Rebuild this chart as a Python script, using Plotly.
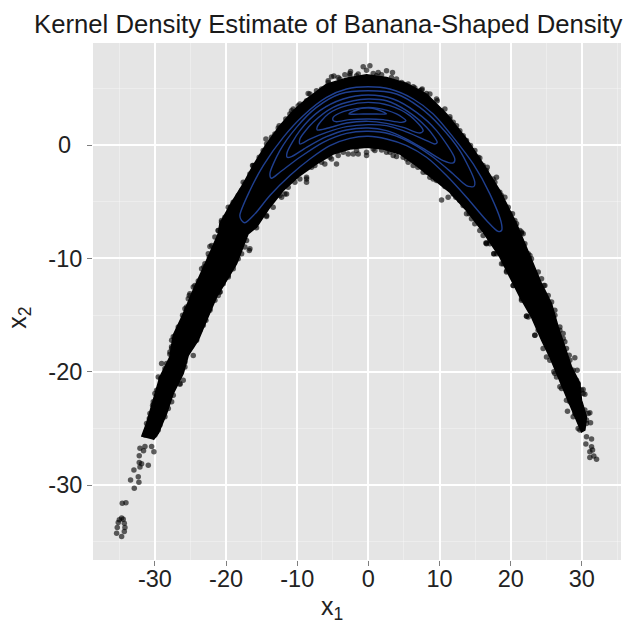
import plotly.graph_objects as go

# Upper and lower outline of the solid mass of samples
upper_x = [-31.87,-31.17,-30.23,-29.3,-27.89,-27.42,-26.0,-24.61,-22.74,-21.1,-20.87,-19.46,-17.59,-16.19,-14.31,-12.44,-10.57,-8.69,-5.88,-3.07,-0.26,2.55,5.36,8.17,10.98,13.79,16.13,18.47,20.35,20.82,21.99,23.16,24.33,25.74,26.67,27.61,28.55,29.72,29.95,30.65,30.42]
upper_y = [-25.73,-24.55,-22.5,-20.45,-18.69,-16.78,-14.87,-12.8,-10.2,-7.83,-6.95,-5.33,-3.43,-1.81,0.09,1.71,3.03,4.05,5.37,5.9,6.2,5.96,5.43,4.5,2.74,0.53,-1.67,-4.01,-6.36,-6.95,-8.71,-10.47,-12.23,-13.99,-16.05,-17.8,-19.57,-21.03,-22.5,-23.97,-25.14]
lower_x = [-30.23,-29.53,-28.36,-27.42,-26.02,-25.31,-23.91,-22.74,-21.33,-19.93,-18.52,-16.9,-15.72,-13.84,-11.97,-9.63,-7.29,-4.95,-2.6,-0.26,2.08,4.42,6.76,9.11,11.45,13.79,16.13,16.6,18.48,20.11,21.29,22.92,24.33,25.5,26.67,27.84,29.01,29.95]
lower_y = [-26.0,-25.44,-23.67,-21.9,-20.15,-18.54,-17.2,-15.46,-13.4,-11.94,-10.47,-7.83,-7.24,-5.48,-4.01,-2.69,-1.67,-0.79,-0.35,-0.2,-0.35,-0.79,-1.81,-2.99,-4.16,-5.77,-7.68,-8.12,-9.88,-11.94,-13.4,-15.17,-17.2,-18.7,-20.45,-22.2,-23.97,-25.3]

# Separately visible samples
point_x = [-31.4,-32.1,-31.6,-30.46,-30.14,-32.2,-32.2,-31.87,-30.93,-32.1,-32.95,-32.34,-33.42,-32.25,-32.9,-34.59,-34.07,-34.68,-35.15,-34.3,-35.29,-34.21,-35.38,-34.3,-34.68,-35.0,-34.45,-24.61,-20.86,-27.89,-29.06,-26.48,-16.74,
           30.65,31.36,30.56,31.36,31.5,31.12,31.12,32.06,31.68,29.01,29.34,30.18,30.42,27.98,30.89,31.22,23.39,22.22,24.66,17.63,16.51,26.06,
           -0.73,0.21,-0.26,2.55,3.39,1.38,-2.6,-4.85,-8.46,-10.8,-12.67,-14.4,-16.19,7.56,8.64,9.58,11.45,14.49,15.66,16.7,18.0,18.71,20.25,21.52,
           -8.69,-8.69,-4.48,-6.12,-2.13,-0.26,1.85,3.49,5.59,8.64,10.75,10.28,11.21,12.29,14.16,14.96,16.6,-11.74,-14.31,-16.65]
point_y = [-26.6,-26.75,-26.96,-26.6,-27.05,-27.4,-28.0,-28.1,-28.25,-28.4,-28.66,-29.25,-29.54,-29.75,-30.28,-31.6,-31.54,-32.9,-33.3,-33.36,-33.74,-33.74,-34.24,-34.09,-34.53,-33.06,-33.0,-18.57,-12.96,-18.45,-19.27,-21.09,-9.3,
           -25.73,-25.93,-26.37,-26.61,-26.9,-27.05,-27.55,-27.72,-27.43,-18.77,-19.86,-21.56,-21.97,-23.47,-23.67,-24.5,-16.78,-15.08,-12.38,-9.59,-8.65,-20.0,
           6.9,6.99,6.6,6.55,6.4,6.4,6.3,6.1,4.55,3.03,1.5,0.53,-1.81,4.94,4.5,4.06,2.3,-0.49,-1.14,-1.96,-2.84,-4.45,-6.07,-7.77,
           -2.84,-3.28,-1.67,-1.67,-0.79,-0.93,-0.43,-0.93,-1.52,-2.84,-3.66,-4.84,-4.6,-4.6,-6.07,-6.95,-8.65,-4.31,-6.3,-9.15]

# Samples on the ragged edge of the mass
edge_x = [-22.27,-22.36,-23.11,-23.91,-24.61,-25.17,-25.55,-26.11,-26.48,-27.42,-27.66,-18.29,-18.99,-19.69,-20.86,-21.57,-22.27,-22.83,-23.67,-24.14,-24.84,
          -14.78,-16.28,-17.59,-18.29,-19.37,-20.64,-21.1,-8.69,-11.5,-12.2,-14.31,-15.72,
          21.52,22.7,23.87,24.8,25.74,26.21,26.91,27.38,16.6,17.64,18.71,19.42,20.35,21.52,22.23,23.4,
          -5.65,-4.24,-2.6,-1.67,1.14,3.95,4.89,6.3,7.23,9.11,10.28,11.92,12.85,13.79,14.96,16.13,17.54,19.18,19.88,20.82,
          -7.29,-8.69,-9.86,-11.03,-12.2,-13.14,-15.95,-17.36,-18.53,-19.7,-20.64,-21.57,
          -5.41,-3.54,-1.67,0.68,3.02,4.89,6.3,7.7,9.58,12.85,13.79,15.66,17.07,-13.38,-10.33,-7.52,
          -22.97,-25.08,-25.55,-27.65,-28.36,-29.53,-29.76,-30.23,-30.7,-31.17,-31.4,-17.12,-17.82,-19.69,-21.1,-22.97,-23.91,-25.08,-25.78,-26.02,-27.42,-28.12,-29.29,-30.0,
          21.75,22.46,27.37,27.84,28.31,29.48,30.18,31.12,30.65,18.94,25.03,26.2,27.14,28.31,29.01,29.72]
edge_y = [-8.94,-9.88,-10.76,-12.0,-12.52,-13.26,-14.28,-15.02,-16.1,-16.92,-17.8,-9.3,-10.62,-11.5,-12.96,-13.7,-14.43,-15.46,-16.34,-17.22,-17.75,
          -0.49,-1.81,-3.28,-4.45,-5.48,-6.66,-7.53,-2.99,-4.31,-4.6,-6.22,-7.3,
          -7.68,-9.74,-11.2,-12.38,-13.84,-15.02,-16.34,-17.07,-8.71,-9.59,-10.47,-11.1,-12.38,-13.55,-15.1,-16.78,
          5.52,5.96,6.11,6.11,6.11,5.82,5.38,5.14,4.79,3.62,3.03,2.0,1.27,0.39,-0.49,-1.81,-2.99,-4.6,-6.07,-6.95,
          4.79,3.91,3.47,2.74,1.41,0.97,-1.81,-3.43,-4.89,-5.48,-6.8,-8.12,
          -1.08,-0.64,-0.49,-0.35,-0.64,-1.08,-1.81,-2.4,-3.13,-4.89,-6.07,-7.54,-8.71,-5.48,-3.28,-1.81,
          -10.47,-13.11,-14.58,-17.95,-19.27,-20.45,-21.62,-22.65,-23.67,-24.55,-25.58,-8.42,-9.59,-11.64,-12.82,-15.31,-16.48,-17.66,-19.13,-20.74,-22.06,-23.23,-24.7,-25.58,
          -7.83,-9.59,-16.63,-17.95,-18.98,-21.03,-21.91,-23.61,-24.55,-10.47,-18.69,-20.15,-21.47,-22.65,-23.67,-25.14]

# Further samples on the fringe of the mass
fringe_x = [-8.22,-7.52,-6.58,-5.65,-5.18,-4.01,-3.31,-2.51,-1.43,0.68,1.85,3.25,4.66,5.59,6.53,7.47,8.17,9.67,10.75,11.45,12.39,13.32,14.35,15.43,16.6,17.77,18.47,19.65,20.58,
            -9.63,-10.57,-11.6,-12.53,-13.61,-14.31,-15.34,-16.65,-17.83,-19.0,-20.17,-21.1,
            -12.44,-11.27,-9.63,-7.99,-6.58,-5.18,-4.24,-2.84,-1.43,-0.26,0.91,2.55,3.95,5.36,6.96,8.17,9.11,10.51,11.92,13.32,14.49,16.13,
            -22.03,-22.5,-23.44,-24.38,-25.31,-25.78,-26.72,-27.65,-27.89,-28.59,-29.2,-30.0,-30.32,-30.79,
            -17.35,-18.29,-18.99,-20.4,-21.1,-22.27,-23.2,-24.38,-25.31,-25.78,-26.48,-27.65,-28.59,-29.53,
            21.29,21.99,22.92,24.33,25.27,26.2,26.91,27.61,28.22,28.78,29.25,29.95,30.42,30.65,
            17.07,18.01,19.41,20.35,21.52,22.46,23.86,24.56,25.5,26.44,26.91,27.84,28.78,29.48]
fringe_y = [4.5,4.2,4.94,5.67,6.02,5.82,6.2,6.49,6.26,6.31,6.2,5.96,5.52,5.38,5.02,4.85,4.55,3.91,3.18,2.5,1.71,0.83,-0.05,-1.08,-2.25,-3.28,-4.16,-5.48,-6.65,
            3.62,3.18,2.29,1.71,0.68,0.09,-1.08,-2.55,-4.01,-5.04,-6.36,-7.54,
            -4.45,-3.72,-2.99,-1.96,-1.52,-1.23,-0.93,-0.79,-0.79,-0.64,-0.49,-0.64,-1.02,-1.23,-1.96,-2.4,-2.99,-3.43,-4.31,-5.33,-6.51,-7.97,
            -8.86,-9.59,-10.91,-12.38,-13.55,-14.43,-16.04,-17.22,-18.25,-19.71,-20.59,-21.91,-22.94,-24.11,
            -9.0,-10.03,-10.91,-12.23,-13.26,-14.58,-15.9,-17.07,-18.1,-19.57,-21.03,-22.65,-23.97,-25.14,
            -7.54,-8.71,-10.03,-11.79,-13.26,-14.58,-16.04,-17.36,-18.54,-19.86,-20.74,-21.62,-23.38,-24.26,
            -8.42,-9.59,-11.2,-12.38,-13.7,-15.16,-16.34,-17.95,-18.98,-20.45,-21.33,-22.5,-23.97,-25.0]

# Density contours, outermost first
c1_x = [-17.83,-18.06,-16.65,-14.78,-11.97,-9.16,-5.88,-3.07,-0.03,3.02,6.3,9.11,11.92,14.73,17.07,18.71,18.71,18.24,16.6,13.79,10.98,8.17,5.36,2.55,-0.03,-2.6,-5.41,-8.22,-11.03,-13.84,-15.95,-17.36,-17.83]
c1_y = [-6.65,-6.21,-4.01,-1.81,0.68,2.59,4.2,4.94,5.14,4.94,4.06,2.74,0.68,-1.67,-4.31,-6.95,-7.54,-7.62,-6.65,-4.6,-2.69,-1.08,-0.05,0.53,0.77,0.59,-0.05,-1.23,-2.69,-4.45,-6.07,-6.86,-6.65]
c2_x = [-13.61,-13.84,-12.44,-10.1,-7.29,-4.01,-0.03,3.95,7.23,10.04,12.85,14.96,14.82,13.79,11.92,9.11,6.3,3.02,-0.03,-3.07,-6.35,-9.63,-12.44,-13.61]
c2_y = [-2.93,-2.55,-0.49,1.56,3.32,4.5,4.79,4.5,3.32,1.71,-0.49,-3.28,-3.66,-3.57,-2.55,-1.08,0.09,0.97,1.21,1.03,0.24,-1.08,-2.4,-2.93]
c3_x = [-11.41,-11.41,-9.63,-6.82,-3.54,-0.03,3.49,6.77,9.58,12.15,11.92,10.51,8.17,5.36,2.55,-0.03,-3.07,-5.88,-8.69,-10.8,-11.41]
c3_y = [-1.08,-0.64,1.27,3.03,4.06,4.41,4.06,2.88,1.27,-1.23,-1.58,-1.37,-0.49,0.53,1.27,1.5,1.33,0.74,-0.2,-1.02,-1.08]
c4_x = [-9.63,-9.63,-7.76,-4.95,-2.13,-0.03,2.55,5.36,8.17,9.67,9.34,7.7,4.89,2.55,-0.03,-3.07,-5.88,-8.22,-9.63]
c4_y = [0.09,0.53,2.0,3.32,3.91,4.06,3.91,3.03,1.56,0.24,0.09,0.53,1.27,1.71,1.8,1.62,1.12,0.53,0.09]
c5_x = [-7.19,-7.19,-5.65,-3.07,-0.03,3.02,5.83,7.7,7.23,4.89,2.55,-0.03,-3.07,-5.65,-7.19]
c5_y = [1.33,1.62,2.74,3.47,3.76,3.47,2.59,1.27,1.06,1.56,1.91,2.09,1.94,1.5,1.33]
c6_x = [-4.95,-4.95,-3.54,-1.2,1.14,3.95,5.27,4.66,2.08,-0.03,-2.6,-4.48,-4.95]
c6_y = [2.15,2.44,2.94,3.26,3.26,2.74,2.15,2.0,2.24,2.3,2.24,2.06,2.15]
c7_x = [-2.74,-1.67,-0.73,0.91,2.55,1.14,-0.73,-2.74]
c7_y = [2.74,3.09,3.26,3.2,2.74,2.74,2.74,2.74]
contours = [(c1_x,c1_y),(c2_x,c2_y),(c3_x,c3_y),(c4_x,c4_y),(c5_x,c5_y),(c6_x,c6_y),(c7_x,c7_y)]

x_ticks = [-30,-20,-10,0,10,20,30]
y_ticks = [-30,-20,-10,0]
x_tick_labels = ["-30","-20","-10","0","10","20","30"]
y_tick_labels = ["-30","-20","-10","0\u00a0\u2009"]

BLUE = "#1f3f8f"
fig = go.Figure()
fig.add_trace(go.Scatter(x=upper_x+lower_x[::-1], y=upper_y+lower_y[::-1], mode="lines",
                         fill="toself", fillcolor="#000000", line=dict(color="#000000", width=1.5), hoverinfo="skip"))
fig.add_trace(go.Scatter(x=point_x+edge_x+fringe_x, y=point_y+edge_y+fringe_y, mode="markers",
                         marker=dict(size=5.5, color="rgba(0,0,0,0.62)", line=dict(width=0))))
for cx, cy in contours:
    fig.add_trace(go.Scatter(x=cx, y=cy, mode="lines", line=dict(color=BLUE, width=1.4, shape="spline", smoothing=0.8)))

axis_common = dict(showgrid=True, gridcolor="#FFFFFF", gridwidth=1.5, zeroline=False, showline=False, automargin=False,
                   ticks="outside", ticklen=5, tickwidth=1, tickcolor="#7f7f7f",
                   tickfont=dict(family="Liberation Sans", size=23.5, color="#222222"),
                   minor=dict(dtick=5, tick0=0, showgrid=True, gridcolor="rgba(255,255,255,0.3)", gridwidth=1, ticks=""))
label_font = dict(family="Liberation Sans", size=25, color="#222222")
fig.update_layout(
    width=636, height=622, showlegend=False, paper_bgcolor="#FFFFFF", plot_bgcolor="#E5E5E5",
    margin=dict(l=93, r=15, t=42.5, b=62, autoexpand=False),
    title=dict(text="Kernel Density Estimate of Banana-Shaped Density", x=0.516, xanchor="center", y=0.961, yanchor="middle",
               font=dict(family="Liberation Sans", size=25.7, color="#1a1a1a")),
    xaxis=dict(range=[-38.7,35.5], tickvals=x_ticks, ticktext=x_tick_labels, ticklabelstandoff=-7, **axis_common),
    yaxis=dict(range=[-36.6,9.0], tickvals=y_ticks, ticktext=y_tick_labels, **axis_common),
    annotations=[
        dict(text="x<sub>1</sub>", xref="paper", yref="paper", x=0.4527, y=-0.0925, xanchor="center", yanchor="middle",
             showarrow=False, font=label_font),
        dict(text="x<sub>2</sub>", xref="paper", yref="paper", x=-0.1405, y=0.468, xanchor="center", yanchor="middle",
             textangle=-90, showarrow=False, font=label_font),
    ],
)
fig.write_html("out.html", config={"displayModeBar": False},
               post_script="document.body.style.margin='0';document.documentElement.style.overflow='hidden';")
